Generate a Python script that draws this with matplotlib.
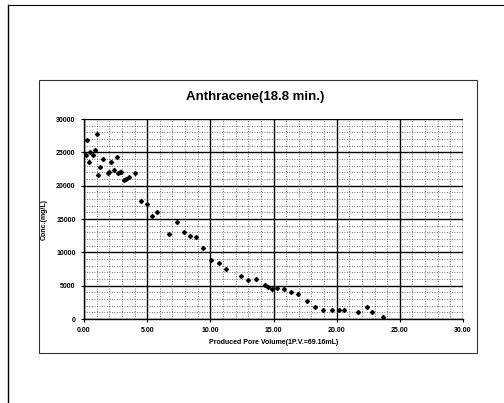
import matplotlib
matplotlib.use("Agg")
import matplotlib.pyplot as plt
from matplotlib.lines import Line2D
from matplotlib.patches import Rectangle
from matplotlib.ticker import MultipleLocator, FormatStrFormatter

plt.rcParams['font.family'] = ['Liberation Sans', 'DejaVu Sans']

title = "Anthracene(18.8 min.)"
xlabel = "Produced Pore Volume(1P.V.=69.16mL)"
ylabel = "Conc.(mg/L)"

pore_volume = [0.15, 0.2, 0.4, 0.5, 0.7, 0.9, 1.0, 1.1, 1.3, 1.5, 1.9, 2.0, 2.1,
               2.35, 2.6, 2.7, 2.85, 2.95, 3.2, 3.3, 3.6, 4.0, 4.5, 4.95, 5.4,
               5.8, 6.7, 7.35, 7.9, 8.35, 8.9, 9.45, 10.05, 10.65, 11.2, 12.45,
               12.95, 13.65, 14.3, 14.6, 14.9, 15.3, 15.8, 16.4, 16.95, 17.65,
               18.3, 18.95, 19.6, 20.2, 20.6, 21.7, 22.4, 22.8, 23.7]
conc = [24600, 26900, 23600, 25000, 24550, 25300, 27800, 21650, 22800, 24000,
        21900, 22100, 23550, 22300, 24300, 21850, 22050, 22100, 20900, 21050,
        21300, 21900, 17650, 17250, 15500, 16050, 12800, 14500, 13000, 12500,
        12250, 10650, 8900, 8400, 7500, 6400, 5800, 6000, 5100, 4750, 4550,
        4650, 4450, 4050, 3750, 2700, 1850, 1400, 1350, 1400, 1400, 1100,
        1850, 1000, 350]

fig = plt.figure(figsize=(5.04, 4.03), dpi=100)

# page frame (scanned document edge)
fig.add_artist(Line2D([0.0159, 0.0159], [0.0, 0.9876], transform=fig.transFigure,
                      color='black', lw=1.0))
fig.add_artist(Line2D([0.0159, 1.0], [0.9876, 0.9876], transform=fig.transFigure,
                      color='black', lw=0.8))
# chart frame
fig.add_artist(Rectangle((0.0774, 0.1241), 0.9464 - 0.0774, 0.8015 - 0.1241,
                         transform=fig.transFigure, fill=False,
                         edgecolor='#333333', lw=0.8))

ax = fig.add_axes([0.1667, 0.2084, 0.752, 0.4963])
ax.scatter(pore_volume, conc, marker='D', s=4, color='black', zorder=3)

ax.set_xlim(0, 30)
ax.set_ylim(0, 30000)
ax.xaxis.set_major_locator(MultipleLocator(5))
ax.xaxis.set_minor_locator(MultipleLocator(1))
ax.yaxis.set_major_locator(MultipleLocator(5000))
ax.yaxis.set_minor_locator(MultipleLocator(1000))
ax.xaxis.set_major_formatter(FormatStrFormatter('%.2f'))
ax.yaxis.set_major_formatter(FormatStrFormatter('%d'))

ax.grid(which='major', color='black', lw=1.0, ls='-')
ax.grid(which='minor', color='#444444', lw=0.6, ls=(0, (1, 2)))
ax.set_axisbelow(True)

for s in ['top', 'right']:
    ax.spines[s].set_visible(False)
for s in ['left', 'bottom']:
    ax.spines[s].set_color('black')
    ax.spines[s].set_linewidth(1.0)

ax.tick_params(which='major', length=2, width=0.8, labelsize=5, pad=4)
ax.tick_params(which='minor', length=0)
for lab in ax.get_xticklabels() + ax.get_yticklabels():
    lab.set_fontweight('bold')

ax.set_xlabel(xlabel, fontsize=5, fontweight='bold', labelpad=3)
ax.set_ylabel(ylabel, fontsize=5, fontweight='bold', labelpad=6)

fig.text(0.506, 0.759, title, ha='center', va='center', fontsize=9.5,
         fontweight='bold')

fig.savefig("out.png", dpi=100)
